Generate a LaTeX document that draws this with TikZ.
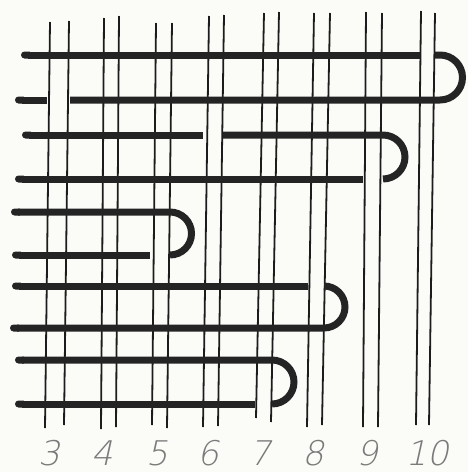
\documentclass[tikz,border=0pt]{standalone}
\usepackage{fontspec}
\usetikzlibrary{arrows.meta}
\newfontfamily\labfont[FakeSlant=0.22]{DejaVu Sans ExtraLight}
\definecolor{paper}{HTML}{FBFBF8}
\definecolor{ink}{HTML}{242424}
\definecolor{wire}{HTML}{1C1C1C}
\definecolor{labgray}{HTML}{7A7A7A}
\begin{document}
\begin{tikzpicture}[x=1pt,y=-1pt,
  vline/.style={draw=wire,line width=1.8pt},
  row/.style={draw=ink,line width=7pt,line cap=butt},
  rcap/.style={{Round Cap[]}-},
  lab/.style={text=labgray,font=\labfont\fontsize{34}{34}\selectfont,anchor=base,inner sep=0pt}]
\fill[paper] (0,0) rectangle (468,472);
\useasboundingbox (0,0) rectangle (468,472);
% vertical lines: top x, top y, bottom x, bottom y
\foreach \xt/\yt/\xb/\yb in {50/22/45/428, 69/21/64/425,
  104/18/101/429, 119/16/116/427,
  156/23/152/425, 172/23/167/428,
  209/16/203/427, 224/15/218/426,
  264/13/256/418, 279/12/271/422,
  314/13/307/427, 330/13/322/425,
  366/12/363/427, 382/13/378/427,
  421/11/416/425, 435/13/429/425}
  \draw[vline] (\xt,\yt) -- (\xb,\yb);
% loop A: rows 1-2, turning beyond pair 10
\draw[row,rcap] (21,55) -- (420,55);
\draw[row] (434.5,55) -- (440,55) arc[start angle=90,end angle=-90,radius=22.5pt] -- (70,100);
\draw[row,rcap] (15,100) -- (47,100);
% loop B: rows 3-4, turning beyond pair 9
\draw[row,rcap] (22,135) -- (203,135);
\draw[row] (223,135) -- (383,135) arc[start angle=90,end angle=-90,radius=22pt];
\draw[row,rcap] (15,179) -- (363,179);
% loop C: rows 5-6, turning beyond pair 5
\draw[row,rcap] (11,212) -- (170,212) arc[start angle=90,end angle=-90,radius=21.5pt];
\draw[row,rcap] (12,255) -- (150,255);
% loop D: rows 7-8, turning beyond pair 8
\draw[row,rcap] (12,286) -- (308,286);
\draw[row,rcap] (10,328) -- (324,328) arc[start angle=-90,end angle=90,radius=21pt];
% loop E: rows 9-10, turning beyond pair 7
\draw[row,rcap] (15,360) -- (272,360) arc[start angle=90,end angle=-90,radius=22pt];
\draw[row,rcap] (15,404) -- (255,404);
% labels
\node[lab] (l3) at (49,465) {3};
\node[lab] (l4) at (102,465) {4};
\node[lab] (l5) at (157,465) {5};
\node[lab] (l6) at (208,465) {6};
\node[lab] (l7) at (260,465) {7};
\node[lab] (l8) at (313,465) {8};
\node[lab] (l9) at (367,465) {9};
\node[lab] (l10) at (427,465) {10};
\end{tikzpicture}
\end{document}
